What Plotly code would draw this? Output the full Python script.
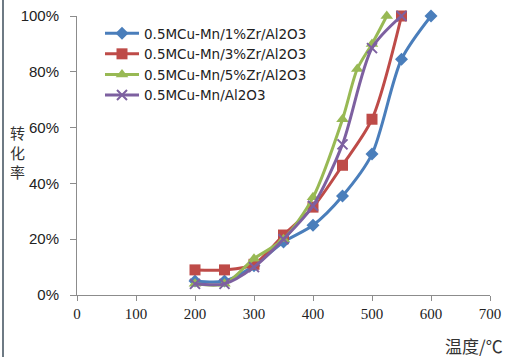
import plotly.graph_objects as go

temps_1 = [200, 250, 300, 350, 400, 450, 500, 550, 600]
conv_1 = [0.05, 0.05, 0.105, 0.19, 0.25, 0.355, 0.505, 0.845, 1.0]

temps_3 = [200, 250, 300, 350, 400, 450, 500, 550]
conv_3 = [0.09, 0.09, 0.11, 0.215, 0.315, 0.465, 0.63, 1.0]

temps_5 = [200, 250, 300, 350, 400, 450, 475, 500, 525]
conv_5 = [0.04, 0.04, 0.13, 0.20, 0.35, 0.63, 0.81, 0.90, 1.0]

temps_0 = [200, 250, 300, 350, 400, 450, 500, 550]
conv_0 = [0.04, 0.04, 0.10, 0.20, 0.32, 0.54, 0.885, 1.0]

names = ["0.5MCu-Mn/1%Zr/Al2O3", "0.5MCu-Mn/3%Zr/Al2O3",
         "0.5MCu-Mn/5%Zr/Al2O3", "0.5MCu-Mn/Al2O3"]

x_ticks = [0, 100, 200, 300, 400, 500, 600, 700]
y_ticks = [0, 0.2, 0.4, 0.6, 0.8, 1.0]
y_labels = ["0%", "20%", "40%", "60%", "80%", "100%"]
y_title = "转<br>化<br>率"
x_title = "温度/℃"

colors = ["#4A7EBB", "#BE4B48", "#98B954", "#7D60A0"]

fig = go.Figure()
series = [(temps_1, conv_1, "diamond", 10), (temps_3, conv_3, "square", 11),
          (temps_5, conv_5, "triangle-up", 11), (temps_0, conv_0, "x-thin", 10)]
for (xs, ys, sym, sz), nm, c in zip(series, names, colors):
    marker = dict(symbol=sym, size=sz, color=c)
    if sym == "x-thin":
        marker["line"] = dict(color=c, width=2)
    fig.add_trace(go.Scatter(
        x=xs, y=ys, name=nm, mode="lines+markers",
        line=dict(color=c, width=3, shape="spline", smoothing=0.8),
        marker=marker, cliponaxis=False))

L, R, T, B = 77, 16, 16, 62
W, H = 506, 357
pw, ph = W - L - R, H - T - B

fig.update_layout(
    width=W, height=H, autosize=False,
    margin=dict(l=L, r=R, t=T, b=B, pad=0, autoexpand=False),
    paper_bgcolor="white", plot_bgcolor="white",
    showlegend=True,
    legend=dict(x=(100 - L) / pw, y=(H - B - 18) / ph, xanchor="left", yanchor="top",
                font=dict(family="DejaVu Sans", size=13.5, color="#222"),
                bgcolor="rgba(0,0,0,0)", itemwidth=34, tracegroupgap=0),
    xaxis=dict(range=[0, 700], tickvals=x_ticks, ticktext=[str(v) for v in x_ticks],
               automargin=False,
               showgrid=False, zeroline=False, showline=True, linecolor="#8C8C8C",
               linewidth=1, ticks="outside", ticklen=5, tickcolor="#8C8C8C",
               tickfont=dict(family="Liberation Serif, DejaVu Serif", size=15, color="#222")),
    yaxis=dict(range=[0, 1], tickvals=y_ticks, ticktext=y_labels,
               automargin=False, ticklabelstandoff=8,
               showgrid=False, zeroline=False, showline=True, linecolor="#8C8C8C",
               linewidth=1, ticks="outside", ticklen=6, tickcolor="#8C8C8C",
               tickfont=dict(family="Liberation Sans, Arial", size=15, color="#222")),
)

fig.add_annotation(text=y_title, xref="paper", yref="paper",
                   x=(17 - L) / pw, y=(H - B - 152) / ph, showarrow=False,
                   font=dict(family="Noto Sans CJK SC", size=15, color="#333"),
                   xanchor="center", yanchor="middle")
fig.add_annotation(text=x_title, xref="paper", yref="paper",
                   x=(505 - L) / pw, y=(H - B - 345) / ph, showarrow=False,
                   font=dict(family="Noto Sans CJK SC", size=17, color="#333"),
                   xanchor="right", yanchor="middle")
fig.add_shape(type="line", xref="paper", yref="paper",
              x0=(3 - L) / pw, x1=(3 - L) / pw, y0=(H - B - H) / ph, y1=(H - B) / ph,
              line=dict(color="#6E7A84", width=2))

fig.write_html("out.html", config={"displayModeBar": False},
               post_script="document.body.style.margin='0';document.documentElement.style.overflow='hidden';document.body.style.overflow='hidden';")
